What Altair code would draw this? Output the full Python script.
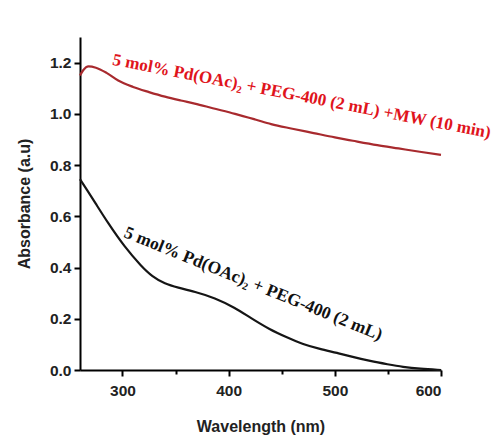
import altair as alt
import pandas as pd

red_nm = [260, 263, 268, 275, 285, 296, 310, 325, 340, 355, 368, 385, 406, 425, 440, 460, 480, 500, 517, 540, 560, 580, 600]
red_abs = [1.15, 1.17, 1.185, 1.18, 1.16, 1.13, 1.105, 1.085, 1.067, 1.052, 1.04, 1.022, 1.0, 0.978, 0.96, 0.942, 0.925, 0.908, 0.895, 0.878, 0.865, 0.852, 0.84]

black_nm = [260, 267, 274, 286, 302, 318, 328, 340, 352, 368, 387, 406, 420, 439, 455, 470, 486, 502, 518, 533, 550, 564, 580, 600]
black_abs = [0.745, 0.70, 0.655, 0.576, 0.48, 0.404, 0.365, 0.336, 0.322, 0.306, 0.282, 0.243, 0.205, 0.157, 0.127, 0.10, 0.082, 0.067, 0.05, 0.035, 0.022, 0.012, 0.005, 0.0]

labels = ["5 mol% Pd(OAc)₂ + PEG-400 (2 mL) +MW (10 min)", "5 mol% Pd(OAc)₂ + PEG-400 (2 mL)"]
label_nm = [290, 300.5]
label_abs = [1.192, 0.52]
label_angle = [11, 22]
label_size = [17.2, 17.5]
label_color = ["#e0141c", "#111111"]

x_ticks = [300, 350, 400, 450, 500, 550, 600]
y_ticks = [0.0, 0.1, 0.2, 0.3, 0.4, 0.5, 0.6, 0.7, 0.8, 0.9, 1.0, 1.1, 1.2]

red_df = pd.DataFrame({"nm": red_nm, "abs": red_abs})
black_df = pd.DataFrame({"nm": black_nm, "abs": black_abs})

xscale = alt.Scale(domain=[260, 600], nice=False, zero=False)
yscale = alt.Scale(domain=[0, 1.3], nice=False)

xaxis = alt.Axis(
    title="Wavelength (nm)", values=x_ticks,
    labelExpr="datum.value % 100 == 0 ? datum.label : ''",
    tickSize={"condition": {"test": "datum.value % 100 == 0", "value": 6}, "value": 4},
    grid=False, titlePadding=20, labelPadding=7,
)
yaxis = alt.Axis(
    title="Absorbance (a.u)", values=y_ticks, format=".1f",
    labelExpr="round(datum.value*10) % 2 == 0 ? datum.label : ''",
    tickSize={"condition": {"test": "round(datum.value*10) % 2 == 0", "value": 6}, "value": 4},
    grid=False, titlePadding=17, labelPadding=3,
)

red_line = alt.Chart(red_df).mark_line(color="#a82a2e", strokeWidth=2.2, interpolate="monotone").encode(
    x=alt.X("nm:Q", scale=xscale, axis=xaxis),
    y=alt.Y("abs:Q", scale=yscale, axis=yaxis),
)
black_line = alt.Chart(black_df).mark_line(color="#151515", strokeWidth=2.2, interpolate="basis").encode(
    x=alt.X("nm:Q", scale=xscale),
    y=alt.Y("abs:Q", scale=yscale),
)

text_layers = []
for i in range(len(labels)):
    df = pd.DataFrame({"nm": [label_nm[i]], "abs": [label_abs[i]], "t": [labels[i]]})
    text_layers.append(
        alt.Chart(df).mark_text(
            align="left", baseline="alphabetic", angle=label_angle[i],
            font="Liberation Serif", fontWeight="bold", fontSize=label_size[i],
            color=label_color[i],
        ).encode(x=alt.X("nm:Q", scale=xscale), y=alt.Y("abs:Q", scale=yscale), text="t:N")
    )

chart = alt.layer(red_line, black_line, *text_layers).properties(
    width=361, height=333,
    autosize=alt.AutoSizeParams(type="none"),
    padding={"left": 72, "top": 29, "right": 53, "bottom": 68},
).configure_view(stroke=None).configure_axis(
    domainColor="black", domainWidth=2, tickColor="black", tickWidth=2,
    labelFont="Liberation Sans", labelFontWeight="bold", labelFontSize=15.5, labelColor="#222",
    titleFont="Liberation Sans", titleFontWeight="bold", titleFontSize=16, titleColor="#222",
)

chart.save("out.html", embed_options={"renderer": "svg", "actions": False})
